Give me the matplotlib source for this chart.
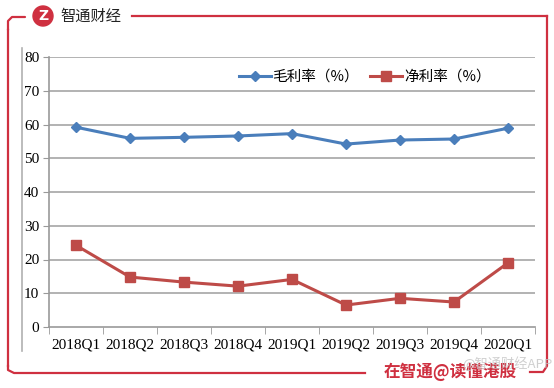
import matplotlib
matplotlib.use("Agg")
import matplotlib.pyplot as plt
from matplotlib.patches import Circle

categories = ["2018Q1", "2018Q2", "2018Q3", "2018Q4", "2019Q1", "2019Q2", "2019Q3", "2019Q4", "2020Q1"]
gross_margin = [59.2, 55.9, 56.2, 56.6, 57.3, 54.2, 55.4, 55.7, 58.9]
net_margin = [24.2, 14.8, 13.3, 12.1, 14.1, 6.5, 8.5, 7.4, 19.0]
yticks = [0, 10, 20, 30, 40, 50, 60, 70, 80]
label_gross = "毛利率（%）"
label_net = "净利率（%）"

plt.rcParams['font.family'] = ['Noto Sans CJK SC', 'DejaVu Sans']

W, H = 554, 388
fig = plt.figure(figsize=(W/100, H/100), dpi=100)
fig.patch.set_facecolor("white")

def fx(px):
    return px / W
def fy(py):
    return 1 - py / H

red = "#cf3040"
# frame
ov = fig.add_axes([0, 0, 1, 1], zorder=0)
ov.set_xlim(0, W); ov.set_ylim(H, 0); ov.axis("off")
ov.plot([25, 12, 8, 8], [17, 17, 21, 30], color=red, lw=1.6, solid_capstyle="round")
ov.plot([8, 8], [30, 366], color=red, lw=1.6)
ov.plot([8, 8, 14, 365], [366, 370, 373, 373], color=red, lw=1.6)
ov.plot([132, 547], [16, 16], color=red, lw=1.6)
ov.plot([547, 547, 543, 530], [16, 366, 372, 372], color=red, lw=1.6)
# inner gray frame line
ov.plot([22, 22], [48, 351], color="#b0b0b0", lw=1.2)
# logo
ov.add_patch(Circle((43, 16), 10, color=red))
ov.text(43, 16.5, "Z", color="white", fontsize=10, fontweight="bold", ha="center", va="center", family="DejaVu Sans")
ov.text(60, 16, "智通财经", color="#222222", fontsize=11, ha="left", va="center")
# watermarks
ov.text(384, 372, "在智通@读懂港股", color=red, fontsize=12, fontweight="bold", ha="left", va="center")
ov.text(462, 364, "@智通财经APP", color="#c4c4c4", fontsize=9.5, ha="left", va="center", alpha=0.8)

ax = fig.add_axes([fx(49), fy(327), fx(535) - fx(49), fy(57) - fy(327)], zorder=1)
ax.patch.set_alpha(0)
x = list(range(len(categories)))
ax.plot(x, gross_margin, color="#4a7ebb", lw=2.2, marker="D", markersize=5.5, label=label_gross, zorder=3)
ax.plot(x, net_margin, color="#be4b48", lw=2.2, marker="s", markersize=6.5, label=label_net, zorder=3)
ax.set_xlim(-0.5, len(categories) - 0.5)
ax.set_ylim(0, 80)
ax.set_yticks(yticks)
ax.set_yticklabels([str(v) for v in yticks], family="Liberation Serif", fontsize=11)
ax.set_xticks(x)
ax.set_xticklabels(categories, family="Liberation Serif", fontsize=11)
ax.set_xticks([i - 0.5 for i in range(len(categories) + 1)], minor=True)
ax.tick_params(axis="x", which="major", length=0, pad=8)
ax.tick_params(axis="x", which="minor", length=5, color="#999999", direction="out")
ax.tick_params(axis="y", length=4, color="#999999", pad=3)
for v in yticks[1:]:
    ax.axhline(v, color="#a6a6a6", lw=1.2, zorder=1)
for s in ["top", "right"]:
    ax.spines[s].set_visible(False)
ax.spines["left"].set_color("#999999")
ax.spines["bottom"].set_color("#999999")
ax.spines["left"].set_linewidth(1.2)
ax.spines["bottom"].set_linewidth(1.2)

leg = ax.legend(loc="center left", bbox_to_anchor=(0.378, 0.926), ncol=2, frameon=False,
                fontsize=10.5, handlelength=2.2, columnspacing=0.8, handletextpad=0.1, borderaxespad=0)

fig.savefig("out.png", dpi=100)
